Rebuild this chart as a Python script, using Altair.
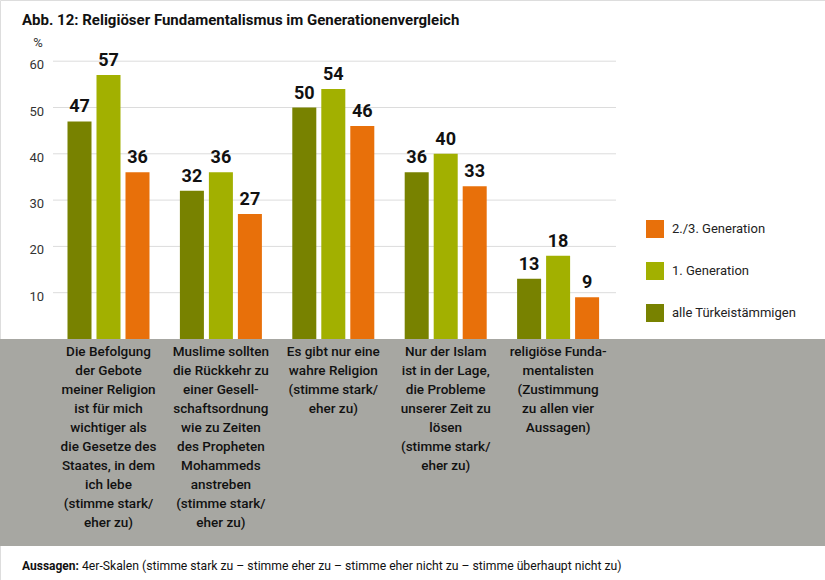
import altair as alt
import pandas as pd

# ---- data ----
categories = [
    "Die Befolgung\nder Gebote\nmeiner Religion\nist für mich\nwichtiger als\ndie Gesetze des\nStaates, in dem\nich lebe\n(stimme stark/\neher zu)",
    "Muslime sollten\ndie Rückkehr zu\neiner Gesell-\nschaftsordnung\nwie zu Zeiten\ndes Propheten\nMohammeds\nanstreben\n(stimme stark/\neher zu)",
    "Es gibt nur eine\nwahre Religion\n(stimme stark/\neher zu)",
    "Nur der Islam\nist in der Lage,\ndie Probleme\nunserer Zeit zu\nlösen\n(stimme stark/\neher zu)",
    "religiöse Funda-\nmentalisten\n(Zustimmung\nzu allen vier\nAussagen)",
]
cat_ids = ["c1", "c2", "c3", "c4", "c5"]
series = ["alle Türkeistämmigen", "1. Generation", "2./3. Generation"]
alle = [47, 32, 50, 36, 13]
gen1 = [57, 36, 54, 40, 18]
gen23 = [36, 27, 46, 33, 9]
y_ticks = [10, 20, 30, 40, 50, 60]

title_text = "Abb. 12: Religiöser Fundamentalismus im Generationenvergleich"
footer_bold = "Aussagen:"
footer_text = "4er-Skalen (stimme stark zu – stimme eher zu – stimme eher nicht zu – stimme überhaupt nicht zu)"

legend_order = ["2./3. Generation", "1. Generation", "alle Türkeistämmigen"]
color_range = ["#e8700a", "#a2b000", "#788200"]

rows = []
for i, cid in enumerate(cat_ids):
    for s, vals in zip(series, [alle, gen1, gen23]):
        rows.append({"cat": cid, "series": s, "value": vals[i]})
bars_df = pd.DataFrame(rows)
cat_df = pd.DataFrame({"cat": cat_ids, "label": categories})
tick_df = pd.DataFrame({"t": y_ticks, "lab": [str(t) for t in y_ticks]})
one = pd.DataFrame({"a": [0]})

FONT = "Roboto"

x_scale = alt.Scale(domain=cat_ids, range=[52.3, 614.3], paddingInner=0, paddingOuter=0)
y_scale = alt.Scale(domain=[0, 60], range=[339, 61.2], nice=False, zero=False)
xoff_scale = alt.Scale(domain=series, paddingInner=0.172, paddingOuter=0.524)

X = alt.X("cat:N", scale=x_scale, axis=None, sort=cat_ids)
XO = alt.XOffset("series:N", scale=xoff_scale, sort=series)

band = alt.Chart(one).mark_rect(color="#a7a7a2").encode(
    x=alt.value(0), x2=alt.value(825), y=alt.value(339), y2=alt.value(546)
)

grid = alt.Chart(tick_df).mark_rule(color="#dcdcdc", strokeWidth=1).encode(
    y=alt.Y("t:Q", scale=y_scale, axis=None),
    x=alt.value(53), x2=alt.value(616),
)

tick_labels = alt.Chart(tick_df).mark_text(
    align="right", baseline="middle", dy=4, font=FONT, fontSize=13, color="#333333"
).encode(y=alt.Y("t:Q", scale=y_scale, axis=None), x=alt.value(44), text="lab:N")

bars = alt.Chart(bars_df).mark_bar().encode(
    x=X, xOffset=XO,
    y=alt.Y("value:Q", scale=y_scale, axis=None),
    y2=alt.datum(0),
    color=alt.Color(
        "series:N",
        scale=alt.Scale(domain=legend_order, range=color_range),
        legend=alt.Legend(
            title=None, orient="none", legendX=646, legendY=220,
            symbolType="square", symbolSize=324, symbolStrokeWidth=0,
            symbolOpacity=1, labelFont=FONT, labelFontSize=13, labelColor="#222222",
            rowPadding=24, labelOffset=8, padding=0,
        ),
    ),
)

value_labels = alt.Chart(bars_df).mark_text(
    baseline="bottom", dy=-5, font=FONT, fontSize=18, fontWeight="bold", color="#111111"
).encode(
    x=X, xOffset=XO,
    y=alt.Y("value:Q", scale=y_scale, axis=None),
    text="value:Q",
)

cat_labels = alt.Chart(cat_df).mark_text(
    baseline="top", align="center", lineBreak="\n", lineHeight=19,
    font=FONT, fontSize=13.5, fontWeight=500, color="#111111",
).encode(x=X, y=alt.value(345), text="label:N")

title = alt.Chart(one).mark_text(
    align="left", baseline="middle", font=FONT, fontSize=15, fontWeight="bold", color="#111111"
).encode(x=alt.value(22), y=alt.value(20), text=alt.value(title_text))

pct = alt.Chart(one).mark_text(
    align="center", baseline="middle", font=FONT, fontSize=13, color="#333333"
).encode(x=alt.value(38), y=alt.value(43), text=alt.value("%"))

foot_b = alt.Chart(one).mark_text(
    align="left", baseline="middle", font=FONT, fontSize=12, fontWeight="bold", color="#111111"
).encode(x=alt.value(22), y=alt.value(566), text=alt.value(footer_bold))

foot = alt.Chart(one).mark_text(
    align="left", baseline="middle", font=FONT, fontSize=12.2, color="#111111"
).encode(x=alt.value(82), y=alt.value(566), text=alt.value(footer_text))

chart = alt.layer(
    band, grid, tick_labels, bars, value_labels, cat_labels, title, pct, foot_b, foot
).properties(
    width=825, height=580, padding=0, autosize=alt.AutoSizeParams(type="none")
).configure_view(stroke=None).configure(background="white")

chart.save("out.html", embed_options={"renderer": "svg", "actions": False})
